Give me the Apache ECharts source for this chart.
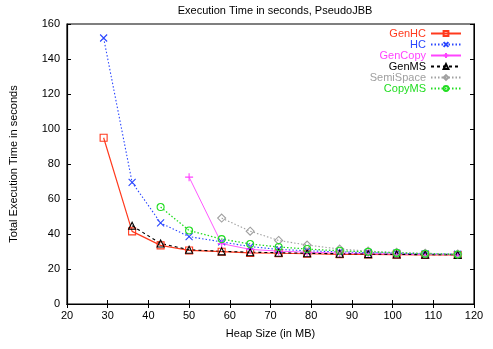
<!DOCTYPE html>
<html><head><meta charset="utf-8">
<script src="https://cdn.jsdelivr.net/npm/echarts@6/dist/echarts.min.js"></script>
<style>html,body{margin:0;padding:0;background:#fff}#c{width:493px;height:349px}</style>
</head><body><div id="c"></div>
<script>
const heap = [29, 36, 43, 50, 58, 65, 72, 79, 87, 94, 101, 108, 116];
const genHC    = [95, 41.5, 33.5, 30.6, 29.9, 29.2, 29.0, 28.7, 28.4, 28.3, 28.2, 28.0, 28.0];
const hc       = [152, 69.5, 46.3, 38.5, 35.5, 32.8, 31.2, 30.4, 29.8, 29.3, 29.0, 28.6, 28.5];
const genCopy  = [null, null, null, 72.5, 34.5, 31.2, 30.2, 29.6, 29.1, 28.8, 28.5, 28.3, 28.2];
const genMS    = [null, 44.7, 34.6, 31.0, 30.1, 29.6, 29.3, 29.0, 28.7, 28.5, 28.3, 28.2, 28.1];
const semiSpace= [null, null, null, null, 49.1, 41.6, 36.3, 33.7, 31.4, 30.2, 29.5, 29.0, 28.6];
const copyMS   = [null, null, 55.4, 42.0, 37.1, 34.3, 32.6, 31.4, 30.4, 29.8, 29.2, 28.7, 28.3];
const xTicks = [20, 30, 40, 50, 60, 70, 80, 90, 100, 110, 120];
const yTicks = [0, 20, 40, 60, 80, 100, 120, 140, 160];

const FONT = 'Liberation Sans';
const xPath = 'path://M0,0L10,10M10,0L0,10';
const plusPath = 'path://M5,0L5,10M0,5L10,5';
function pairs(v){ return heap.map((h,i)=>[h, v[i]]).filter(p=>p[1]!=null); }
function ser(name, data, color, type, width, symbol, size){
  return {
    name, type:'line', data: pairs(data), symbol, symbolSize:size, showSymbol:true,
    lineStyle:{color, width, type},
    itemStyle:{color:'rgba(0,0,0,0)', borderColor:color, borderWidth:1.1},
    emphasis:{disabled:true}, animation:false, z: 3
  };
}
const series = [
  ser('GenHC', genHC, '#ff3a1e', 'solid', 1.2, 'rect', 7),
  ser('HC', hc, '#2a46ff', [1.5,2], 1.1, xPath, 7),
  ser('GenCopy', genCopy, '#ff44ff', 'solid', 0.9, plusPath, 8),
  ser('GenMS', genMS, '#000000', [3,3], 1.1, 'triangle', 7),
  ser('SemiSpace', semiSpace, '#a0a0a0', [1.5,2], 1.1, 'diamond', 8),
  ser('CopyMS', copyMS, '#22dd22', [1.5,2], 1.3, 'circle', 7)
];
const colors = ['#ff3a1e','#2a46ff','#ff44ff','#000000','#a0a0a0','#22dd22'];
const chart = echarts.init(document.getElementById('c'));
chart.setOption({
  animation:false,
  title:{text:'Execution Time in seconds, PseudoJBB', left:270, textAlign:'center', top:0,
    textStyle:{fontFamily:FONT, fontSize:11, fontWeight:'normal', color:'#000'}},
  legend:{
    orient:'vertical', right:31, top:28, align:'right', padding:0,
    itemWidth:30, itemHeight:6, itemGap:0,
    data: series.map((s,i)=>({name:s.name, textStyle:{color:colors[i]}})),
    textStyle:{fontFamily:FONT, fontSize:11, lineHeight:10.5, padding:[0,0,0,0]},
    selectedMode:false
  },
  grid:{left:66, right:19, top:24, bottom:45, show:true, borderColor:'#000', borderWidth:1.2, backgroundColor:'transparent'},
  xAxis:[{
    type:'value', min:20, max:120, interval:10,
    name:'Heap Size (in MB)', nameLocation:'middle', nameGap:24,
    nameTextStyle:{fontFamily:FONT, fontSize:11, color:'#000'},
    axisLine:{lineStyle:{color:'#000', width:1.2}},
    axisTick:{inside:true, length:4, lineStyle:{color:'#000'}},
    axisLabel:{fontFamily:FONT, fontSize:11, color:'#000', margin:6},
    splitLine:{show:false}
  },{
    type:'value', position:'top', min:20, max:120, interval:10,
    axisLine:{show:true, lineStyle:{color:'#000'}},
    axisTick:{inside:true, length:4, lineStyle:{color:'#000'}},
    axisLabel:{show:false}, splitLine:{show:false}
  }],
  yAxis:[{
    type:'value', min:0, max:160, interval:20,
    name:'Total Execution Time in seconds', nameLocation:'middle', nameGap:48,
    nameTextStyle:{fontFamily:FONT, fontSize:11, color:'#000'},
    axisLine:{show:true, lineStyle:{color:'#000', width:1.2}},
    axisTick:{show:true, inside:true, length:4, lineStyle:{color:'#000'}},
    axisLabel:{fontFamily:FONT, fontSize:11, color:'#000', margin:7},
    splitLine:{show:false}
  },{
    type:'value', position:'right', min:0, max:160, interval:20,
    axisLine:{show:true, lineStyle:{color:'#000'}},
    axisTick:{show:true, inside:true, length:4, lineStyle:{color:'#000'}},
    axisLabel:{show:false}, splitLine:{show:false}
  }],
  series
});
</script></body></html>
